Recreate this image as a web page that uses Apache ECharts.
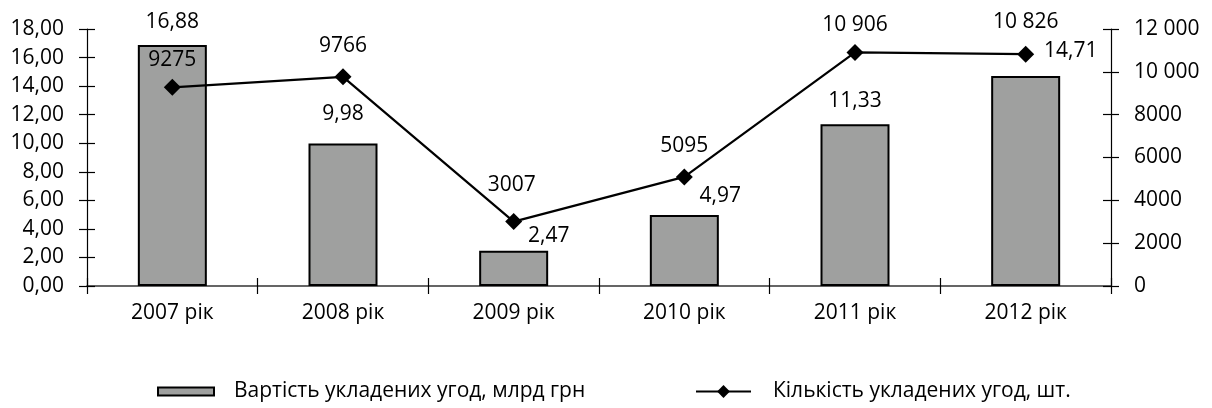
<!DOCTYPE html>
<html>
<head>
<meta charset="utf-8">
<script src="https://cdn.jsdelivr.net/npm/echarts@6/dist/echarts.min.js"></script>
<style>
html,body{margin:0;padding:0;background:#fff;}
#chart{width:1212px;height:408px;}
</style>
</head>
<body>
<div id="chart"></div>
<script>
var categories = ['2007 рік', '2008 рік', '2009 рік', '2010 рік', '2011 рік', '2012 рік'];
var dealValue = [16.88, 9.98, 2.47, 4.97, 11.33, 14.71];
var dealCount = [9275, 9766, 3007, 5095, 10906, 10826];
var valueName = 'Вартість укладених угод, млрд грн';
var countName = 'Кількість укладених угод, шт.';

// label placement (style only): desired centre shift from bar top / marker
var barLabelShift = [[0, -23], [0, -30], [35, -15], [36, -20], [0, -24], [45, -25]];
var lineLabelShift = [[0, -27], [0, -31], [-2, -37], [0, -31], [0, -27], [0, -32]];

var FONT = 'Open Sans';
var FS = 21;

function fmtValue(v) { return v.toFixed(2).replace('.', ','); }
function fmtCount(v) {
  var s = String(Math.round(v));
  if (s.length >= 5) s = s.replace(/\B(?=(\d{3})+(?!\d))/g, ' ');
  return s;
}

var chart = echarts.init(document.getElementById('chart'), null, {renderer: 'canvas'});

var barData = dealValue.map(function (v, i) {
  return {
    value: v,
    label: {offset: [barLabelShift[i][0], barLabelShift[i][1] + 11]}
  };
});
var lineData = dealCount.map(function (v, i) {
  return {
    value: v,
    label: {offset: [lineLabelShift[i][0], lineLabelShift[i][1] + 19]}
  };
});

var tickStyle = {color: '#000', width: 1.2};
var labelStyle = {color: '#000', fontFamily: FONT, fontSize: FS};

var option = {
  animation: false,
  backgroundColor: '#fff',
  textStyle: {fontFamily: FONT},
  grid: {left: 87, right: 101, top: 29, bottom: 122, containLabel: false},
  legend: [
    {
      data: [valueName],
      left: 157, top: 381, padding: 0,
      itemWidth: 56, itemHeight: 8,
      icon: 'rect',
      textStyle: {color: '#000', fontFamily: FONT, fontSize: FS, padding: [0, 0, 0, 15]}
    },
    {
      data: [countName],
      left: 695, top: 381, padding: 0,
      itemWidth: 55, itemHeight: 16,
      textStyle: {color: '#000', fontFamily: FONT, fontSize: FS, padding: [0, 0, 0, 17]}
    }
  ],
  xAxis: [
    {
      type: 'category', data: categories, position: 'bottom',
      axisLine: {show: true, lineStyle: {color: '#333', width: 1.5}},
      axisTick: {show: true, inside: false, length: 8, lineStyle: tickStyle},
      axisLabel: Object.assign({margin: 17}, labelStyle),
      splitLine: {show: false}
    },
    {
      type: 'category', data: categories, position: 'bottom', offset: 0,
      axisLine: {show: false},
      axisTick: {show: true, inside: true, length: 8, lineStyle: tickStyle},
      axisLabel: {show: false},
      splitLine: {show: false}
    }
  ],
  yAxis: [
    {
      type: 'value', position: 'left', min: 0, max: 18, interval: 2,
      axisLine: {show: true, lineStyle: {color: '#000', width: 1.2}},
      axisTick: {show: true, inside: false, length: 8, lineStyle: tickStyle},
      axisLabel: Object.assign({margin: 23, formatter: fmtValue}, labelStyle),
      splitLine: {show: false}
    },
    {
      type: 'value', position: 'right', min: 0, max: 12000, interval: 2000,
      axisLine: {show: true, lineStyle: {color: '#000', width: 1.2}},
      axisTick: {show: true, inside: false, length: 8, lineStyle: tickStyle},
      axisLabel: Object.assign({margin: 23, formatter: fmtCount}, labelStyle),
      splitLine: {show: false}
    },
    {
      type: 'value', position: 'left', offset: 0, min: 0, max: 18, interval: 2,
      axisLine: {show: false},
      axisTick: {show: true, inside: true, length: 8, lineStyle: tickStyle},
      axisLabel: {show: false},
      splitLine: {show: false}
    },
    {
      type: 'value', position: 'right', offset: 0, min: 0, max: 12000, interval: 2000,
      axisLine: {show: false},
      axisTick: {show: true, inside: true, length: 8, lineStyle: tickStyle},
      axisLabel: {show: false},
      splitLine: {show: false}
    }
  ],
  series: [
    {
      name: valueName,
      type: 'bar',
      xAxisIndex: 0, yAxisIndex: 0,
      data: barData,
      barWidth: 69,
      itemStyle: {color: '#9fa09f', borderColor: '#000', borderWidth: 2},
      label: {
        show: true, position: 'top', distance: 0,
        color: '#000', fontFamily: FONT, fontSize: FS,
        formatter: function (p) { return fmtValue(p.value); }
      },
      z: 2
    },
    {
      name: countName,
      type: 'line',
      xAxisIndex: 0, yAxisIndex: 1,
      data: lineData,
      symbol: 'diamond', symbolSize: 17,
      lineStyle: {color: '#000', width: 2.2},
      itemStyle: {color: '#000'},
      label: {
        show: true, position: 'top', distance: 0,
        color: '#000', fontFamily: FONT, fontSize: FS,
        formatter: function (p) { return fmtCount(p.value); }
      },
      z: 3
    }
  ]
};

chart.setOption(option);
</script>
</body>
</html>
